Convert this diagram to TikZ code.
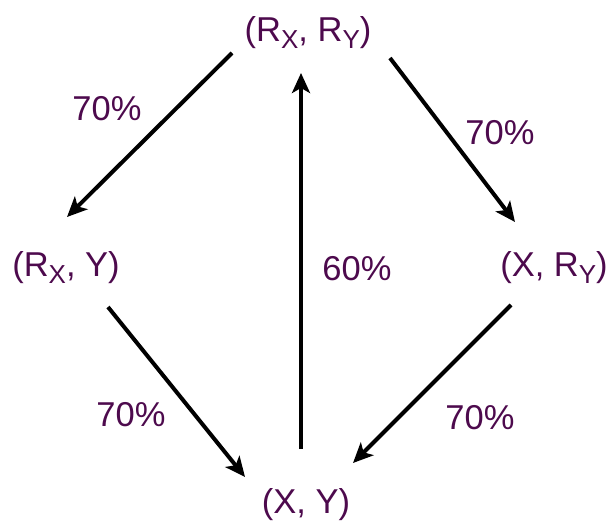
\documentclass[tikz,border=0pt]{standalone}
\usepackage{fontspec}
\setmainfont{Liberation Sans}
\usetikzlibrary{arrows.meta}
\definecolor{txtpurple}{HTML}{4D0A4D}
\newcommand{\mysub}[1]{\raisebox{-6.5pt}{\fontsize{26}{28}\selectfont #1}}
\tikzset{
  lbl/.style={inner sep=0pt, text=txtpurple, font=\fontsize{34.5}{40}\selectfont},
  statenode/.style={lbl, anchor=base},
  pct/.style={lbl, anchor=center},
  conn/.style={line width=4pt, -{Stealth[length=20pt,width=18pt,inset=5pt]}}
}
\begin{document}
\begin{tikzpicture}[x=1pt,y=1pt]
\useasboundingbox (0,0) rectangle (608,-521);
\node[statenode] (top) at (308,-42) {(R\mysub{X}, R\mysub{Y})};
\node[statenode] (left) at (66,-277) {(R\mysub{X}, Y)};
\node[statenode] (right) at (554,-277) {(X, R\mysub{Y})};
\node[statenode] (bot) at (306,-513) {(X, Y)};

\draw[conn] ([shift={(-76,-11)}]top.base) -- ([shift={(1,60)}]left.base);
\draw[conn] ([shift={(82,-16)}]top.base) -- ([shift={(-39,55)}]right.base);
\draw[conn] ([shift={(-43,-28)}]right.base) -- ([shift={(47,50)}]bot.base);
\draw[conn] ([shift={(42,-30)}]left.base) -- ([shift={(-61,36)}]bot.base);
\draw[conn] ([shift={(-5,64)}]bot.base) -- ([shift={(-7,-31)}]top.base);

\node[pct] (p1) at (107,-109) {70\%};
\node[pct] (p2) at (500,-133) {70\%};
\node[pct] (p3) at (357,-269) {60\%};
\node[pct] (p4) at (131,-415) {70\%};
\node[pct] (p5) at (480,-418) {70\%};
\end{tikzpicture}
\end{document}
